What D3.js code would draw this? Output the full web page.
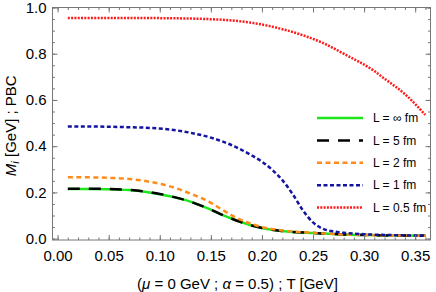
<!DOCTYPE html>
<html>
<head>
<meta charset="utf-8">
<script src="https://cdn.jsdelivr.net/npm/d3@7"></script>
<style>
    html, body { margin: 0; padding: 0; background: #fff; }
    svg { display: block; font-family: "Liberation Sans", Arial, sans-serif; }
</style>
</head>
<body>
<div id="chart"></div>
<script>
// Temperature grids (GeV) and masses (GeV)
const tGrid = [0.01, 0.03, 0.05, 0.07, 0.09, 0.11, 0.13, 0.15, 0.16, 0.17, 0.18, 0.19, 0.20, 0.22, 0.25, 0.28, 0.31, 0.34, 0.36];
const massInf = [0.215, 0.215, 0.214, 0.210, 0.200, 0.183, 0.160, 0.125, 0.105, 0.087, 0.071, 0.057, 0.046, 0.033, 0.024, 0.018, 0.015, 0.013, 0.012];
const mass5 = [0.216, 0.216, 0.215, 0.211, 0.201, 0.184, 0.160, 0.125, 0.105, 0.087, 0.071, 0.057, 0.046, 0.033, 0.024, 0.018, 0.015, 0.013, 0.012];
const mass2 = [0.265, 0.265, 0.263, 0.258, 0.246, 0.226, 0.195, 0.155, 0.128, 0.102, 0.080, 0.063, 0.050, 0.035, 0.025, 0.018, 0.015, 0.013, 0.012];

const tGrid1 = [0.01, 0.03, 0.05, 0.07, 0.09, 0.11, 0.13, 0.15, 0.17, 0.19, 0.20, 0.21, 0.22, 0.23, 0.24, 0.25, 0.26, 0.27, 0.28, 0.30, 0.33, 0.36];
const mass1 = [0.485, 0.485, 0.484, 0.482, 0.479, 0.472, 0.458, 0.437, 0.405, 0.360, 0.333, 0.298, 0.253, 0.193, 0.123, 0.070, 0.042, 0.031, 0.025, 0.019, 0.015, 0.013];

const tGridHalf = [0.01, 0.05, 0.10, 0.14, 0.19, 0.21, 0.24, 0.26, 0.28, 0.31, 0.32, 0.34, 0.36];
const massHalf = [0.955, 0.955, 0.954, 0.951, 0.934, 0.917, 0.880, 0.846, 0.800, 0.725, 0.692, 0.625, 0.535];

const legendLabels = ['L = \u221e fm', 'L = 5 fm', 'L = 2 fm', 'L = 1 fm', 'L = 0.5 fm'];
const xTicks = [0.00, 0.05, 0.10, 0.15, 0.20, 0.25, 0.30, 0.35];
const yTicks = [0.0, 0.2, 0.4, 0.6, 0.8, 1.0];

class MassChart {
    constructor() {
        this.width = 436;
        this.height = 292;
        this.frame = { left: 52.5, right: 430.5, top: 7.5, bottom: 240 };
        this.font = '"Liberation Sans", Arial, sans-serif';

        // one style per curve, same order as the legend
        this.styles = [
            { color: '#1ee61e', dash: null },
            { color: '#000000', dash: '12,9' },
            { color: '#ff8c1a', dash: '5,3.5' },
            { color: '#1414a0', dash: '4,2.5' },
            { color: '#ff1a1a', dash: '2,1.3' }
        ];

        this.series = [
            { t: tGrid, m: massInf },
            { t: tGrid, m: mass5 },
            { t: tGrid, m: mass2 },
            { t: tGrid1, m: mass1 },
            { t: tGridHalf, m: massHalf }
        ];

        this.initializeScales();
        this.initializeSvg();
        this.drawCurves();
        this.drawFrame();
        this.drawLabels();
        this.drawLegend();
    }

    initializeScales() {
        this.x = d3.scaleLinear().domain([-0.005, 0.365]).range([this.frame.left, this.frame.right]);
        this.y = d3.scaleLinear().domain([-0.006, 1.0]).range([this.frame.bottom, this.frame.top]);
    }

    initializeSvg() {
        this.svg = d3.select('#chart')
            .append('svg')
            .attr('width', this.width)
            .attr('height', this.height);
    }

    drawCurves() {
        const g = this.svg.append('g').attr('class', 'curves');
        this.series.forEach((s, i) => {
            const pts = s.t.map((t, j) => [t, s.m[j]]);
            const line = d3.line()
                .x(d => this.x(d[0]))
                .y(d => this.y(d[1]))
                .curve(d3.curveMonotoneX);
            g.append('path')
                .attr('d', line(pts))
                .attr('fill', 'none')
                .attr('stroke', this.styles[i].color)
                .attr('stroke-width', 2.5)
                .attr('stroke-dasharray', this.styles[i].dash);
        });
    }

    drawFrame() {
        const f = this.frame;
        const frameColor = '#777';
        const minorX = d3.range(0, 0.3601, 0.01);
        const minorY = d3.range(0, 1.0001, 0.05);
        const styleText = a => a.selectAll('text')
            .attr('font-size', 15).attr('fill', '#000').attr('font-family', this.font);

        // bottom and top, ticks pointing in, labels only at bottom
        this.svg.append('g')
            .attr('transform', `translate(0,${f.bottom})`)
            .call(d3.axisBottom(this.x).tickValues(minorX).tickSize(-2.5).tickFormat(''));
        this.svg.append('g')
            .attr('transform', `translate(0,${f.bottom})`)
            .call(d3.axisBottom(this.x).tickValues(xTicks).tickSize(-5).tickPadding(10).tickFormat(d3.format('.2f')))
            .call(styleText);

        this.svg.append('g')
            .attr('transform', `translate(0,${f.top})`)
            .call(d3.axisTop(this.x).tickValues(minorX).tickSize(-2.5).tickFormat(''));
        this.svg.append('g')
            .attr('transform', `translate(0,${f.top})`)
            .call(d3.axisTop(this.x).tickValues(xTicks).tickSize(-5).tickFormat(''));

        this.svg.append('g')
            .attr('transform', `translate(${f.left},0)`)
            .call(d3.axisLeft(this.y).tickValues(minorY).tickSize(-2.5).tickFormat(''));
        this.svg.append('g')
            .attr('transform', `translate(${f.left},0)`)
            .call(d3.axisLeft(this.y).tickValues(yTicks).tickSize(-5).tickPadding(6).tickFormat(d3.format('.1f')))
            .call(styleText);

        this.svg.append('g')
            .attr('transform', `translate(${f.right},0)`)
            .call(d3.axisRight(this.y).tickValues(minorY).tickSize(-2.5).tickFormat(''));
        this.svg.append('g')
            .attr('transform', `translate(${f.right},0)`)
            .call(d3.axisRight(this.y).tickValues(yTicks).tickSize(-5).tickFormat(''));

        this.svg.selectAll('.domain').remove();
        this.svg.selectAll('.tick line').attr('stroke', frameColor);

        this.svg.append('rect')
            .attr('x', f.left)
            .attr('y', f.top)
            .attr('width', f.right - f.left)
            .attr('height', f.bottom - f.top)
            .attr('fill', 'none')
            .attr('stroke', frameColor)
            .attr('stroke-width', 1);
    }

    drawLabels() {
        const f = this.frame;
        const xt = this.svg.append('text')
            .attr('x', (f.left + f.right) / 2 - 4)
            .attr('y', 289)
            .attr('text-anchor', 'middle')
            .attr('font-size', 15);
        xt.append('tspan').text('(');
        xt.append('tspan').attr('font-style', 'italic').text('\u03bc');
        xt.append('tspan').text(' = 0 GeV ; ');
        xt.append('tspan').attr('font-style', 'italic').text('\u03b1');
        xt.append('tspan').text(' = 0.5) ; T [GeV]');

        const yt = this.svg.append('text')
            .attr('transform', `translate(16,${(f.top + f.bottom) / 2 + 2}) rotate(-90)`)
            .attr('text-anchor', 'middle')
            .attr('font-size', 15);
        yt.append('tspan').attr('font-style', 'italic').text('M');
        yt.append('tspan').attr('font-style', 'italic').attr('font-size', 11).attr('dy', 3).text('i');
        yt.append('tspan').attr('dy', -3).text(' [GeV] ; PBC');
    }

    drawLegend() {
        const g = this.svg.append('g').attr('class', 'legend');
        const rowY = d3.scalePoint().domain(legendLabels).range([118, 207.5]);
        legendLabels.forEach((label, i) => {
            const yy = rowY(label);
            g.append('line')
                .attr('x1', 317).attr('x2', 363)
                .attr('y1', yy).attr('y2', yy)
                .attr('stroke', this.styles[i].color)
                .attr('stroke-width', 2.5)
                .attr('stroke-dasharray', this.styles[i].dash);
            g.append('text')
                .attr('x', 373)
                .attr('y', yy)
                .attr('dy', '0.35em')
                .attr('font-size', 12)
                .text(label);
        });
    }
}

document.addEventListener('DOMContentLoaded', () => {
    new MassChart();
});
</script>
</body>
</html>
